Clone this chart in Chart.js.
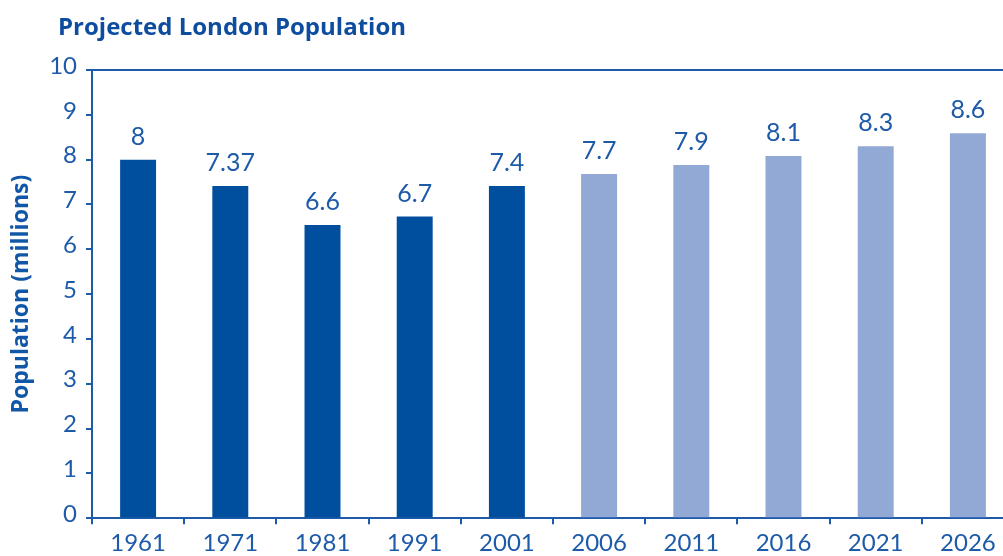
<!DOCTYPE html>
<html>
<head>
<meta charset="utf-8">
<script src="https://cdn.jsdelivr.net/npm/chart.js@4"></script>
<style>
  html, body { margin: 0; padding: 0; background: #fff; }
  #wrap { width: 1003px; height: 556px; overflow: hidden; position: relative; }
  #londonPop { position: absolute; left: 0; top: 0; }
</style>
</head>
<body>
<div id="wrap"><canvas id="londonPop" width="1016" height="563"></canvas></div>
<script>
var years = ["1961", "1971", "1981", "1991", "2001", "2006", "2011", "2016", "2021", "2026"];
var population = [8, 7.41, 6.54, 6.73, 7.41, 7.68, 7.88, 8.08, 8.3, 8.59];
var valueLabels = ["8", "7.37", "6.6", "6.7", "7.4", "7.7", "7.9", "8.1", "8.3", "8.6"];
var projected = [false, false, false, false, false, true, true, true, true, true];
var yTicks = [0, 1, 2, 3, 4, 5, 6, 7, 8, 9, 10];

var blue = '#1d5aa8';
var darkBar = '#004f9f';
var lightBar = '#92a8d5';

// draws the value above each bar and the chart title
var labelPlugin = {
  id: 'barLabels',
  afterDatasetsDraw: function (chart) {
    var c = chart.ctx;
    var meta = chart.getDatasetMeta(0);
    c.save();
    c.fillStyle = blue;
    c.font = '25px Lato';
    c.textAlign = 'center';
    c.textBaseline = 'alphabetic';
    meta.data.forEach(function (bar, i) {
      c.fillText(valueLabels[i], bar.x, bar.y - 15);
    });
    c.font = 'bold 24px "Open Sans"';
    c.fillStyle = '#0d4c9e';
    c.textAlign = 'left';
    c.fillText('Projected London Population', 58, 35);
    c.restore();
  }
};

var ctx = document.getElementById('londonPop').getContext('2d');
var chart = new Chart(ctx, {
  type: 'bar',
  data: {
    labels: years,
    datasets: [{
      data: population,
      backgroundColor: projected.map(function (p) { return p ? lightBar : darkBar; }),
      barPercentage: 0.39,
      categoryPercentage: 1
    }]
  },
  options: {
    responsive: false,
    animation: false,
    layout: { padding: { top: 70, left: 0, right: 2, bottom: 0 } },
    plugins: {
      legend: { display: false },
      tooltip: { enabled: false }
    },
    scales: {
      x: {
        offset: true,
        border: { color: blue, width: 2 },
        grid: {
          offset: true,
          drawOnChartArea: false,
          color: blue,
          tickLength: 6,
          lineWidth: 2
        },
        ticks: {
          color: blue,
          font: { family: 'Lato', size: 24 },
          padding: 5,
          maxRotation: 0
        }
      },
      y: {
        min: 0,
        max: 10,
        afterFit: function (scale) { scale.width = 92; },
        afterBuildTicks: function (scale) {
          scale.ticks = yTicks.map(function (v) { return { value: v }; });
        },
        border: { color: blue, width: 2 },
        grid: {
          color: function (c) { return c.tick && c.tick.value === 10 ? blue : 'rgba(0,0,0,0)'; },
          tickColor: blue,
          tickLength: 6,
          lineWidth: 2
        },
        ticks: {
          color: blue,
          font: { family: 'Lato', size: 24 },
          padding: 9,
          labelOffset: -4
        },
        title: {
          display: true,
          text: 'Population (millions)',
          color: '#1157a8',
          font: { family: 'Open Sans', size: 23, weight: 'bold' },
          padding: { top: 8, bottom: 0 }
        }
      }
    }
  },
  plugins: [labelPlugin]
});
</script>
</body>
</html>
